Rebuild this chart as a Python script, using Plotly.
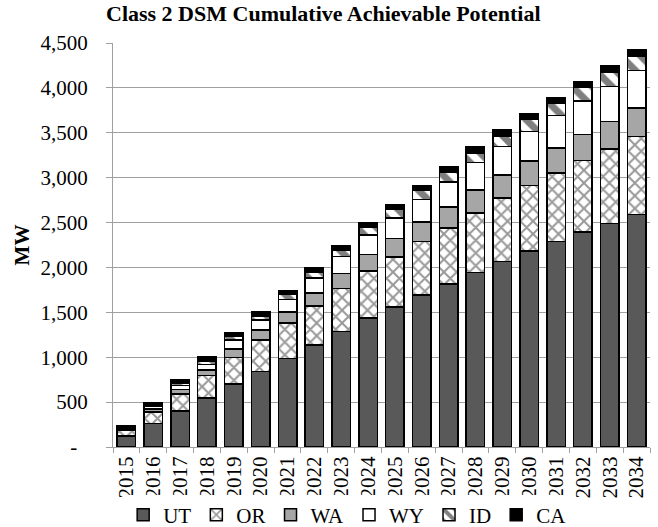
import plotly.graph_objects as go

years = [str(y) for y in range(2015, 2035)]

ut = [120, 260, 400, 548, 703, 840, 984, 1136, 1288, 1436, 1561, 1695, 1813, 1943, 2065, 2183, 2290, 2394, 2491, 2587]
orr = [65, 128, 193, 248, 296, 351, 396, 433, 477, 525, 555, 592, 629, 666, 710, 732, 760, 796, 829, 872]
wa = [15, 38, 47, 63, 93, 111, 126, 148, 170, 185, 208, 218, 233, 251, 255, 272, 283, 290, 305, 315]
wy = [15, 29, 45, 59, 99, 111, 137, 163, 189, 215, 229, 252, 275, 307, 318, 328, 357, 375, 390, 418]
idh = [13, 19, 30, 40, 40, 48, 59, 63, 66, 84, 93, 99, 114, 107, 118, 137, 138, 153, 160, 156]
ca = [13, 19, 33, 42, 37, 45, 44, 52, 52, 52, 55, 52, 61, 67, 66, 63, 65, 62, 70, 74]

ytick_vals = [0, 500, 1000, 1500, 2000, 2500, 3000, 3500, 4000, 4500]
ytick_text = ["-\u00a0\u00a0", "500", "1,000", "1,500", "2,000", "2,500", "3,000", "3,500", "4,000", "4,500"]

FONT = "Liberation Serif"
edge = dict(color="black", width=1.5)

fig = go.Figure()
fig.add_trace(go.Bar(x=years, y=ut, name="UT", marker=dict(color="#595959", line=edge)))
fig.add_trace(go.Bar(x=years, y=orr, name="OR",
                     marker=dict(color="white", line=edge,
                                 pattern=dict(shape="x", fgcolor="#333333", bgcolor="white",
                                              size=9, solidity=0.4))))
fig.add_trace(go.Bar(x=years, y=wa, name="WA", marker=dict(color="#a6a6a6", line=edge)))
fig.add_trace(go.Bar(x=years, y=wy, name="WY", marker=dict(color="white", line=edge)))
fig.add_trace(go.Bar(x=years, y=idh, name="ID",
                     marker=dict(color="white", line=edge,
                                 pattern=dict(shape="\\", fgcolor="black", bgcolor="white",
                                              size=14, solidity=0.5))))
fig.add_trace(go.Bar(x=years, y=ca, name="CA", marker=dict(color="black", line=edge)))

fig.update_layout(
    width=658, height=527,
    barmode="stack", bargap=0.31,
    plot_bgcolor="white", paper_bgcolor="white",
    font=dict(family=FONT, size=21, color="black"),
    margin=dict(l=113, r=8, t=43, b=80, autoexpand=False),
    title=dict(text="<b>Class 2 DSM Cumulative Achievable Potential</b>",
               x=106 / 658, xanchor="left", y=0.975, yanchor="middle",
               font=dict(family=FONT, size=22)),
    showlegend=True,
    legend=dict(orientation="h", traceorder="normal", x=0.437, xanchor="center",
                yref="container", y=1 - 515 / 527, yanchor="middle",
                font=dict(family=FONT, size=21), itemwidth=30, tracegroupgap=0),
    xaxis=dict(
        type="category", tickangle=-90, showgrid=False, automargin=False,
        showline=True, linecolor="#a0a0a0", linewidth=1,
        ticks="outside", tickson="boundaries", ticklen=5, tickcolor="#a0a0a0",
        tickfont=dict(family=FONT, size=21)),
    yaxis=dict(
        range=[0, 4500], tickmode="array", tickvals=ytick_vals, ticktext=ytick_text,
        showgrid=True, gridcolor="#a0a0a0", gridwidth=1, automargin=False,
        showline=True, linecolor="#a0a0a0", linewidth=1,
        ticks="outside", ticklen=6, tickcolor="#a0a0a0", ticklabelstandoff=14,
        tickfont=dict(family=FONT, size=21),
        title=dict(text="<b>MW</b>", font=dict(family=FONT, size=21), standoff=5)),
)

fig.write_html("out.html", config={"displayModeBar": False},
               post_script="document.body.style.margin = '0';")
